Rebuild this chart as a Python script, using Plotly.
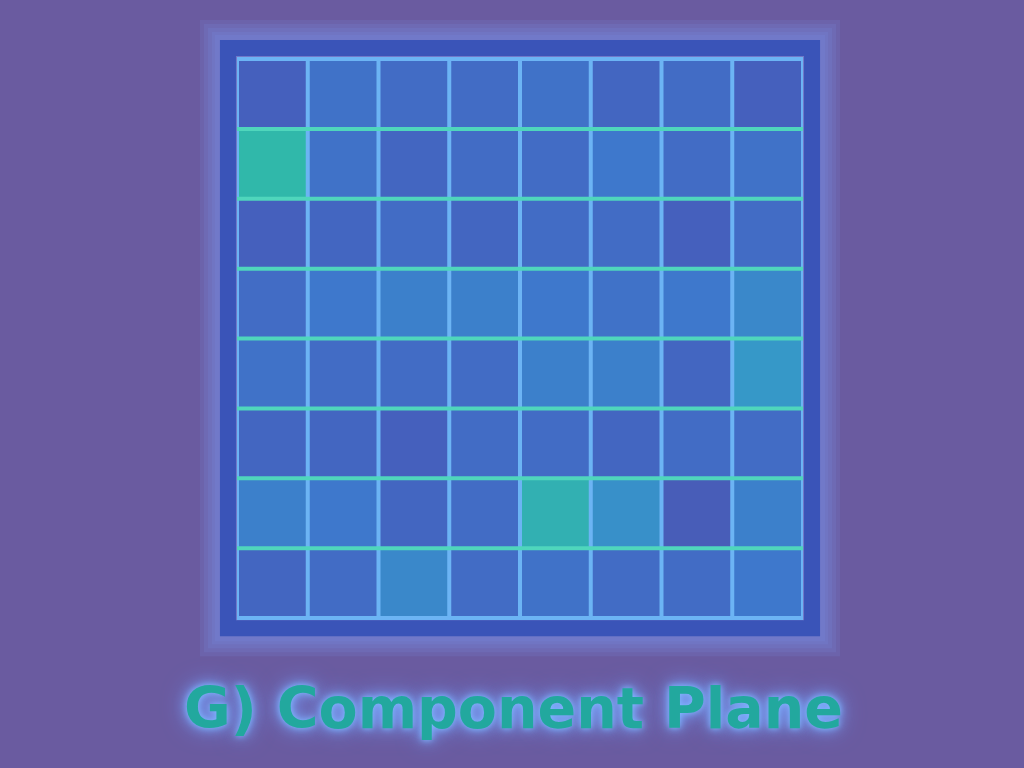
import plotly.graph_objects as go

# ---- data ----
cols = ["C1", "C2", "C3", "C4", "C5", "C6", "C7", "C8"]
rows = ["R1", "R2", "R3", "R4", "R5", "R6", "R7", "R8"]
r1 = [0.20, 0.35, 0.30, 0.30, 0.35, 0.25, 0.30, 0.20]
r2 = [0.80, 0.35, 0.25, 0.30, 0.30, 0.40, 0.30, 0.35]
r3 = [0.20, 0.25, 0.30, 0.25, 0.30, 0.30, 0.20, 0.30]
r4 = [0.30, 0.40, 0.45, 0.45, 0.40, 0.35, 0.40, 0.50]
r5 = [0.35, 0.30, 0.30, 0.30, 0.45, 0.45, 0.25, 0.60]
r6 = [0.25, 0.25, 0.20, 0.30, 0.30, 0.25, 0.30, 0.30]
r7 = [0.45, 0.40, 0.25, 0.30, 0.75, 0.55, 0.15, 0.45]
r8 = [0.25, 0.30, 0.50, 0.30, 0.35, 0.30, 0.30, 0.40]
z = [r1, r2, r3, r4, r5, r6, r7, r8]
title_text = "G) Component Plane"

BG = "#6a5ba0"
colorscale = [
    [0.0, "#5055aa"],
    [0.2, "#4560bd"],
    [0.4, "#3e78cc"],
    [0.6, "#3698c8"],
    [0.8, "#30b8aa"],
    [1.0, "#40dc98"],
]

fig = go.Figure()
fig.add_trace(go.Heatmap(
    z=z, x=cols, y=rows, colorscale=colorscale, zmin=0, zmax=1,
    showscale=False, hoverinfo="skip",
))

shapes = []
# soft glow + frame around the grid (paper coords)
fx0, fx1, fy0, fy1 = -0.016, 1.016, -0.0145, 1.016
for w in [56, 48, 40, 32, 26]:
    shapes.append(dict(type="rect", xref="paper", yref="paper", x0=fx0, x1=fx1, y0=fy0, y1=fy1,
                       line=dict(color="rgba(125,155,250,0.13)", width=w), layer="below"))
shapes.append(dict(type="rect", xref="paper", yref="paper", x0=fx0, x1=fx1, y0=fy0, y1=fy1,
                   line=dict(color="#3a54b8", width=16), layer="above"))
# grid lines between cells (category boundaries)
n = len(cols)
for k in range(n + 1):
    shapes.append(dict(type="line", xref="x", yref="paper", x0=k - 0.5, x1=k - 0.5, y0=0, y1=1,
                       line=dict(color="#6cb4f4", width=4), layer="above"))
for k in range(len(rows) + 1):
    col = "#4fd6bc" if 0 < k < len(rows) else "#6cb4f4"
    shapes.append(dict(type="line", xref="paper", yref="y", x0=0, x1=1, y0=k - 0.5, y1=k - 0.5,
                       line=dict(color=col, width=4), layer="above"))

fig.update_layout(
    width=1024, height=768,
    margin=dict(l=237, r=221, t=57, b=148),
    paper_bgcolor=BG, plot_bgcolor=BG,
    xaxis=dict(visible=False, range=[-0.5, n - 0.5]),
    yaxis=dict(visible=False, autorange="reversed"),
    shapes=shapes,
    showlegend=False,
    annotations=[dict(
        text="<b>" + title_text + "</b>", xref="paper", yref="paper",
        x=0.488, y=-0.157, xanchor="center", yanchor="middle", showarrow=False,
        font=dict(family="DejaVu Sans", size=57, color="#22a89e",
                  shadow="0 0 6px #80b8ff, 0 0 14px #7aa8ff, 0 0 24px #7090f0"),
    )],
)

fig.write_html("out.html")
